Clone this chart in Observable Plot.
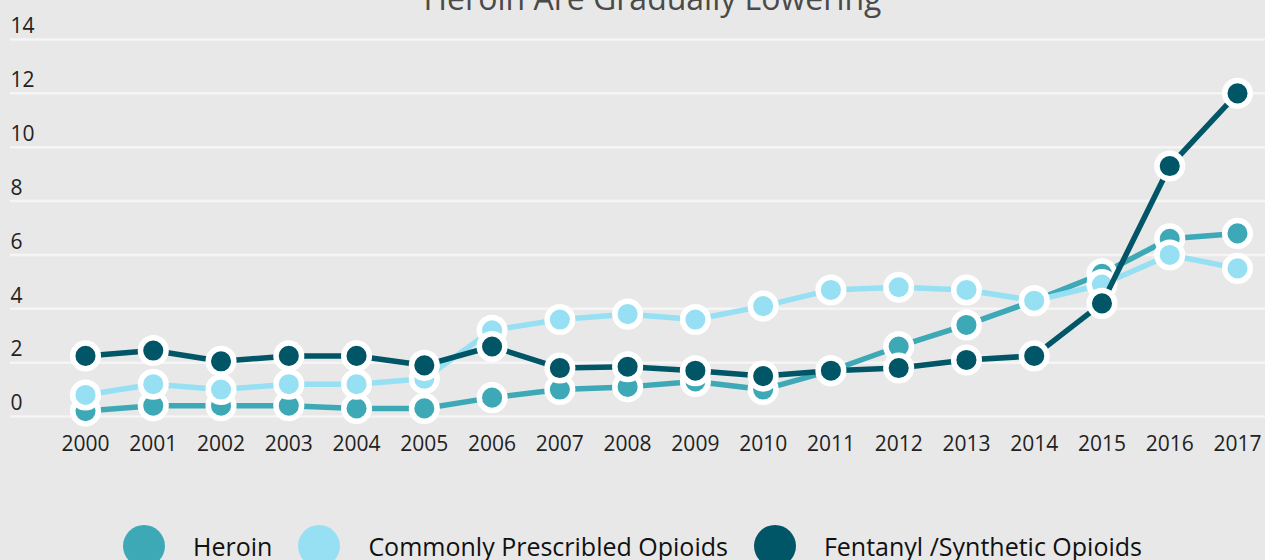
<!DOCTYPE html>
<html>
<head>
<meta charset="utf-8">
<script src="https://cdn.jsdelivr.net/npm/d3@7"></script>
<script src="https://cdn.jsdelivr.net/npm/@observablehq/plot@0.6"></script>
<style>
  html, body { margin: 0; padding: 0; background: #e8e8e8; overflow: hidden; }
  body { width: 1265px; height: 560px; position: relative; font-family: "Open Sans", sans-serif; }
  #title { position: absolute; top: -18px; left: 40px; right: 0; text-align: center; z-index: 2;
           font-size: 32px; line-height: 32px; color: #4a4a4a; white-space: nowrap; }
  #chart { position: absolute; top: 0; left: 0; }
  #legend { position: absolute; top: 525px; left: 0; width: 1265px; display: flex;
            justify-content: center; align-items: center; height: 42px; }
  .sw { width: 42px; height: 42px; border-radius: 50%; margin-right: 28px; flex: none; }
  .lab { font-size: 25px; color: #111; margin-right: 26px; white-space: nowrap; }
  .lab:last-child { margin-right: 0; }
</style>
</head>
<body>
<div id="title">Heroin Are Gradually Lowering</div>
<div id="chart"></div>
<div id="legend"></div>
<script>
const years = [2000, 2001, 2002, 2003, 2004, 2005, 2006, 2007, 2008, 2009, 2010, 2011, 2012, 2013, 2014, 2015, 2016, 2017];
const heroin = [0.2, 0.4, 0.4, 0.4, 0.3, 0.3, 0.7, 1.0, 1.1, 1.3, 1.0, 1.7, 2.6, 3.4, 4.3, 5.3, 6.6, 6.8];
const prescribed = [0.8, 1.2, 1.0, 1.2, 1.2, 1.4, 3.2, 3.6, 3.8, 3.6, 4.1, 4.7, 4.8, 4.7, 4.3, 4.9, 6.0, 5.5];
const fentanyl = [2.25, 2.45, 2.05, 2.25, 2.25, 1.9, 2.6, 1.8, 1.85, 1.7, 1.5, 1.7, 1.8, 2.1, 2.25, 4.2, 9.3, 12.0];
const seriesNames = ["Heroin", "Commonly Prescribled Opioids", "Fentanyl /Synthetic Opioids"];
const seriesColors = ["#3ea9b6", "#97e0f3", "#005566"];
const yTicks = [0, 2, 4, 6, 8, 10, 12, 14];

const seriesValues = [heroin, prescribed, fentanyl];
const table = seriesNames.map((name, i) => years.map((year, j) => ({ year, value: seriesValues[i][j], series: name })));

const marks = [
  Plot.ruleY(yTicks, { stroke: "#f5f5f5", strokeWidth: 2.5 })
];
table.forEach((rows, i) => {
  marks.push(Plot.line(rows, { x: "year", y: "value", stroke: seriesColors[i], strokeWidth: 5.5 }));
  marks.push(Plot.dot(rows, { x: "year", y: "value", r: 12.8, fill: seriesColors[i], stroke: "white", strokeWidth: 5.5 }));
});
marks.push(Plot.axisY({ ticks: yTicks, tickSize: 0, tickPadding: 0, textAnchor: "start", dy: -13,
  fontSize: 21, fill: "#222", tickFormat: d => `${d}`, label: null }));
marks.push(Plot.axisX({ ticks: years, tickSize: 0, tickPadding: 19.5, fontSize: 21, fill: "#222",
  tickFormat: d => `${d}`, label: null }));

const chart = Plot.plot({
  width: 1265,
  height: 490,
  marginTop: 39,
  marginBottom: 74,
  marginLeft: 10,
  marginRight: 0,
  style: { background: "transparent", fontFamily: "Open Sans", color: "#222", overflow: "visible" },
  x: { domain: [2000, 2017], range: [85, 1237], label: null },
  y: { domain: [0, 14], label: null },
  marks
});
document.getElementById("chart").appendChild(chart);

const legend = document.getElementById("legend");
seriesNames.forEach((name, i) => {
  const sw = document.createElement("div");
  sw.className = "sw";
  sw.style.background = seriesColors[i];
  const lab = document.createElement("div");
  lab.className = "lab";
  lab.textContent = name;
  legend.appendChild(sw);
  legend.appendChild(lab);
});
</script>
</body>
</html>
